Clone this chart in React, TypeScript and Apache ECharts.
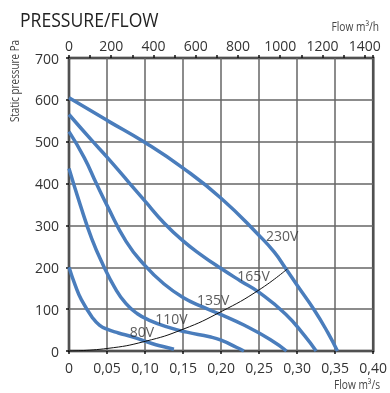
import React, { useEffect, useRef } from 'react';
import * as echarts from 'echarts';

// Flow (m³/s) vs static pressure (Pa) curves
const curve230V: [number, number][] = [
  [0, 605], [0.05, 551], [0.1, 498], [0.15, 437], [0.2, 365], [0.25, 276],
  [0.27, 236], [0.285, 197], [0.3, 157], [0.3225, 98], [0.34, 45], [0.353, 0],
];
const curve165V: [number, number][] = [
  [0, 565], [0.03, 503], [0.05, 463], [0.08, 400], [0.1, 358], [0.125, 306],
  [0.15, 263], [0.175, 228], [0.2, 197], [0.225, 168], [0.25, 140], [0.285, 88], [0.31, 36], [0.325, 0],
];
const curve135V: [number, number][] = [
  [0, 524], [0.02, 462], [0.036, 400], [0.05, 348], [0.075, 262], [0.1, 204],
  [0.125, 160], [0.15, 128], [0.175, 106], [0.2, 87], [0.23, 62], [0.265, 27], [0.286, 0],
];
const curve110V: [number, number][] = [
  [0, 436], [0.015, 348], [0.03, 268], [0.045, 205], [0.06, 152], [0.075, 113],
  [0.09, 89], [0.105, 74], [0.13, 57], [0.155, 45], [0.185, 34], [0.2, 26], [0.22, 9], [0.23, 0],
];
const curve80V: [number, number][] = [
  [0, 200], [0.008, 158], [0.0164, 122], [0.0315, 78], [0.04, 62], [0.05, 52], [0.065, 43],
  [0.083, 34], [0.109, 18], [0.125, 10], [0.138, 4],
];
const systemCurve: [number, number][] = [
  [0, 0], [0.05, 6], [0.1, 23], [0.15, 52], [0.2, 94], [0.25, 146], [0.287, 196],
];
// voltage label anchors (left edge of label, vertical centre)
const voltageLabels: [number, number, string][] = [
  [0.259, 276, '230V'],
  [0.2214, 180, '165V'],
  [0.1683, 122, '135V'],
  [0.1135, 78, '110V'],
  [0.0799, 46, '80V'],
];
const flowM3sMax = 0.4;
const flowM3hMax = 1440;
const pressureMax = 700;

const FONT = '"Open Sans", "Noto Sans", sans-serif';
const BLUE = '#4a7dbc';

export default function App() {
  const ref = useRef<HTMLDivElement>(null);
  useEffect(() => {
    if (!ref.current) return;
    const chart = echarts.init(ref.current, undefined, { renderer: 'svg' });
    const curveSeries = [curve230V, curve165V, curve135V, curve110V, curve80V].map((d, i) => ({
      type: 'line',
      name: ['230V', '165V', '135V', '110V', '80V'][i],
      data: d,
      smooth: 0.5,
      symbol: 'none',
      lineStyle: { color: BLUE, width: 3.5 },
      z: 3,
    }));
    chart.setOption({
      animation: false,
      textStyle: { fontFamily: FONT },
      grid: {
        left: 69, right: 12, top: 58, bottom: 42,
        show: true, borderColor: '#111', borderWidth: 2.5, backgroundColor: 'transparent',
      },
      xAxis: [
        {
          type: 'value', min: 0, max: flowM3sMax, interval: 0.05, position: 'bottom',
          axisLine: { show: false },
          axisTick: { show: true, length: 3, lineStyle: { color: '#111', width: 1.5 } },
          axisLabel: {
            fontSize: 14, color: '#333', margin: 9, fontFamily: FONT,
            formatter: (v: number) => (v === 0 ? '0' : v.toFixed(2).replace('.', ',')),
          },
          splitLine: { show: true, lineStyle: { color: '#666', width: 1.5 } },
        },
        {
          type: 'value', min: 0, max: flowM3hMax, interval: 100, position: 'top',
          axisLine: { show: false },
          axisTick: { show: true, length: 3, lineStyle: { color: '#111', width: 1.5 } },
          axisLabel: {
            fontSize: 14, color: '#333', margin: 6, fontFamily: FONT,
            formatter: (v: number) => (v % 200 === 0 && v <= 1400 ? String(v) : ''),
          },
          splitLine: { show: false },
        },
      ],
      yAxis: {
        type: 'value', min: 0, max: pressureMax, interval: 100,
        axisLine: { show: false },
        axisTick: { show: true, length: 3, lineStyle: { color: '#111', width: 1.5 } },
        axisLabel: { fontSize: 14, color: '#333', margin: 10, fontFamily: FONT },
        splitLine: { show: true, lineStyle: { color: '#666', width: 1.5 } },
      },
      series: [
        ...curveSeries,
        {
          type: 'line', data: systemCurve, smooth: 0.5, symbol: 'none',
          lineStyle: { color: '#111', width: 1 }, z: 4,
        },
        {
          type: 'scatter', symbolSize: 0, z: 5,
          data: voltageLabels.map(([x, y, t]) => ({ value: [x, y], name: t })),
          label: {
            show: true, position: 'right', distance: 0, fontSize: 14, color: '#333',
            fontFamily: FONT, formatter: (p: any) => p.name,
          },
        },
      ],
      graphic: [
        {
          type: 'text', x: 20, y: 20, scaleX: 0.88,
          style: { text: 'PRESSURE/FLOW', fontSize: 20, fill: '#222', fontFamily: FONT, align: 'left', verticalAlign: 'middle' },
        },
        {
          type: 'text', x: 379, y: 26, scaleX: 0.85,
          style: { text: 'Flow m³/h', fontSize: 12, fill: '#444', fontFamily: FONT, align: 'right', verticalAlign: 'middle' },
        },
        {
          type: 'text', x: 380, y: 384, scaleX: 0.85,
          style: { text: 'Flow m³/s', fontSize: 12, fill: '#444', fontFamily: FONT, align: 'right', verticalAlign: 'middle' },
        },
        {
          type: 'text', x: 14, y: 81, rotation: Math.PI / 2, scaleX: 0.82,
          style: { text: 'Static pressure Pa', fontSize: 12, fill: '#444', fontFamily: FONT, align: 'center', verticalAlign: 'middle' },
        },
      ],
    });
    return () => chart.dispose();
  }, []);
  return <div ref={ref} style={{ position: 'fixed', left: 0, top: 0, width: 390, height: 393 }} />;
}
